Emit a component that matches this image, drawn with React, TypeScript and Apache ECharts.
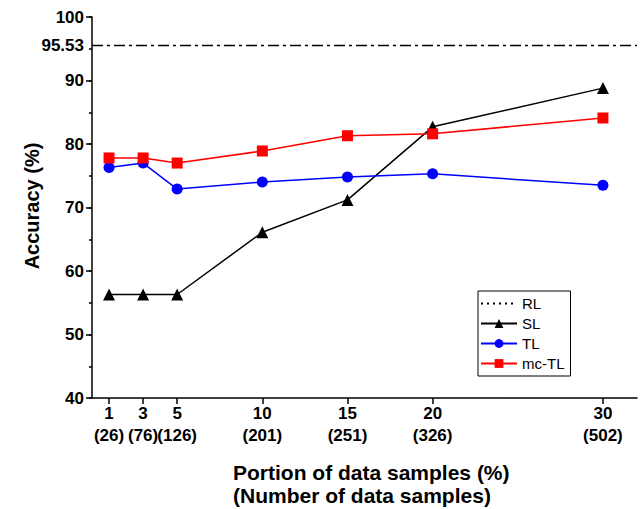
import React, { useEffect, useRef } from "react";
import * as echarts from "echarts";

const xValues = [1, 3, 5, 10, 15, 20, 30];
const sampleCounts = [26, 76, 126, 201, 251, 326, 502];
const rlValue = 95.53;
const slValues = [56.3, 56.3, 56.3, 66.1, 71.2, 82.7, 88.8];
const tlValues = [76.3, 77.0, 72.9, 74.0, 74.8, 75.3, 73.5];
const mcTlValues = [77.8, 77.8, 77.0, 78.9, 81.3, 81.6, 84.1];
const yTickLabels = [40, 50, 60, 70, 80, 90, 95.53, 100];
const xMax = 32;
const yMin = 40;
const yMax = 100;

const FONT = "Liberation Sans, Arial, sans-serif";
const GRID_LEFT = 92;
const GRID_RIGHT = 3;
const WIDTH = 640;

export default function App() {
  const ref = useRef<HTMLDivElement>(null);
  useEffect(() => {
    if (!ref.current) return;
    const chart = echarts.init(ref.current, null, { renderer: "svg" });
    const pair = (vals: number[]) => xValues.map((x, i) => [x, vals[i]]);
    chart.setOption({
      animation: false,
      backgroundColor: "#fff",
      grid: { left: GRID_LEFT, right: GRID_RIGHT, top: 17, bottom: 111 },
      xAxis: {
        type: "value",
        min: 0,
        max: xMax,
        interval: 1,
        axisLine: { show: true, lineStyle: { color: "#000", width: 1.5 } },
        axisTick: { show: true, customValues: xValues, length: 6, inside: false, lineStyle: { color: "#000", width: 1.5 } },
        axisLabel: {
          customValues: xValues,
          formatter: (v: number) => {
            const i = xValues.indexOf(v);
            return `${v}\n(${sampleCounts[i]})`;
          },
          color: "#000",
          fontFamily: FONT,
          fontWeight: "bold",
          fontSize: 17,
          lineHeight: 22,
          margin: 4,
        },
        splitLine: { show: false },
      },
      yAxis: [
        {
          type: "value",
          position: "left",
          min: yMin,
          max: yMax,
          interval: 10,
          axisLine: { show: true, lineStyle: { color: "#000", width: 1.5 } },
          axisTick: { show: true, length: 6, lineStyle: { color: "#000", width: 1.5 } },
          axisLabel: {
            customValues: yTickLabels,
            formatter: (v: number) => String(v),
            color: "#000",
            fontFamily: FONT,
            fontWeight: "bold",
            fontSize: 17,
            margin: 8,
          },
          splitLine: { show: false },
        },
        {
          type: "value",
          position: "right",
          offset: -(WIDTH - GRID_LEFT - GRID_RIGHT),
          min: yMin,
          max: yMax,
          interval: 5,
          axisLine: { show: false },
          axisTick: { show: true, inside: true, length: 3, lineStyle: { color: "#000", width: 1.5 } },
          axisLabel: { show: false },
          splitLine: { show: false },
        },
      ],
      legend: {
        orient: "vertical",
        left: 478,
        top: 291,
        borderColor: "#000",
        borderWidth: 1,
        padding: [5, 6, 5, 2],
        itemWidth: 36,
        itemHeight: 11,
        itemGap: 5,
        textStyle: { fontFamily: FONT, fontSize: 15, color: "#000" },
        data: [
          { name: "RL", itemStyle: { opacity: 0 }, lineStyle: { type: [2, 4], width: 1.8 } },
          { name: "SL" },
          { name: "TL" },
          { name: "mc-TL" },
        ],
      },
      series: [
        {
          name: "RL",
          type: "line",
          data: [[0, rlValue], [xMax, rlValue]],
          symbol: "none",
          lineStyle: { color: "#000", width: 1.5, type: [11, 4, 3, 4] },
          itemStyle: { color: "#000" },
        },
        {
          name: "SL",
          type: "line",
          data: pair(slValues),
          symbol: "triangle",
          symbolSize: 12,
          lineStyle: { color: "#000", width: 1.5 },
          itemStyle: { color: "#000" },
        },
        {
          name: "TL",
          type: "line",
          data: pair(tlValues),
          symbol: "circle",
          symbolSize: 11,
          lineStyle: { color: "#0000ff", width: 1.5 },
          itemStyle: { color: "#0000ff" },
        },
        {
          name: "mc-TL",
          type: "line",
          data: pair(mcTlValues),
          symbol: "rect",
          symbolSize: 11,
          lineStyle: { color: "#ff0000", width: 1.5 },
          itemStyle: { color: "#ff0000" },
        },
      ],
      graphic: [
        {
          type: "text",
          left: 233,
          top: 461,
          style: {
            text: "Portion of data samples (%)\n(Number of data samples)",
            font: `bold 21px ${FONT}`,
            lineHeight: 23,
            fill: "#000",
          },
        },
        {
          type: "text",
          x: 32,
          y: 206,
          rotation: Math.PI / 2,
          style: {
            text: "Accuracy (%)",
            font: `bold 20px ${FONT}`,
            fill: "#000",
            align: "center",
            verticalAlign: "middle",
          },
        },
      ],
    });
    return () => chart.dispose();
  }, []);
  return <div ref={ref} style={{ width: 640, height: 509, position: "absolute", left: 0, top: 0 }} />;
}
